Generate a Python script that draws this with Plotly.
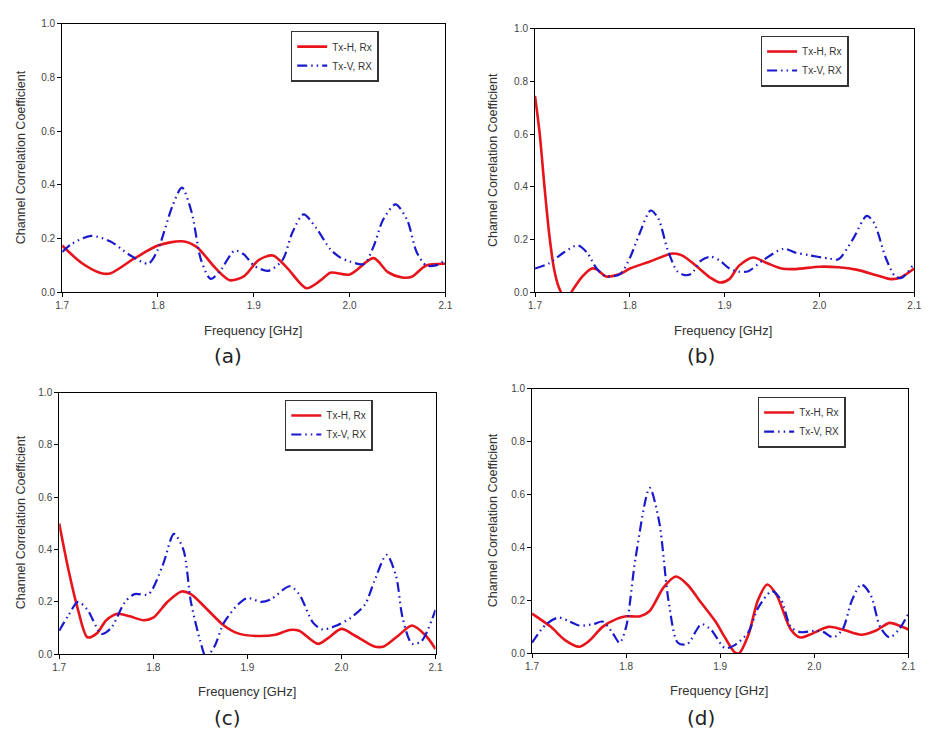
import plotly.graph_objects as go

# ---------------- data ----------------
a_h_x = [1.70, 1.72, 1.74, 1.75, 1.775, 1.80, 1.825, 1.84, 1.86, 1.875, 1.89, 1.905, 1.92, 1.935, 1.955, 1.97, 1.98, 2.00, 2.025, 2.04, 2.055, 2.065, 2.08, 2.10]
a_h_y = [0.174, 0.11, 0.072, 0.07, 0.125, 0.174, 0.19, 0.17, 0.09, 0.045, 0.06, 0.12, 0.137, 0.09, 0.015, 0.045, 0.073, 0.066, 0.127, 0.075, 0.055, 0.058, 0.10, 0.106]
a_v_x = [1.70, 1.71, 1.73, 1.75, 1.77, 1.79, 1.80, 1.815, 1.825, 1.835, 1.845, 1.855, 1.865, 1.88, 1.89, 1.90, 1.915, 1.93, 1.94, 1.952, 1.965, 1.98, 1.99, 2.00, 2.015, 2.025, 2.035, 2.048, 2.06, 2.07, 2.08, 2.09, 2.10]
a_v_y = [0.15, 0.18, 0.21, 0.19, 0.14, 0.107, 0.16, 0.32, 0.39, 0.30, 0.12, 0.05, 0.08, 0.155, 0.14, 0.10, 0.08, 0.12, 0.22, 0.29, 0.24, 0.16, 0.13, 0.115, 0.105, 0.17, 0.27, 0.327, 0.27, 0.15, 0.10, 0.10, 0.12]

b_h_x = [1.70, 1.705, 1.71, 1.715, 1.72, 1.725, 1.733, 1.74, 1.75, 1.76, 1.765, 1.775, 1.79, 1.80, 1.82, 1.845, 1.855, 1.87, 1.885, 1.895, 1.905, 1.915, 1.93, 1.945, 1.96, 1.975, 2.00, 2.02, 2.04, 2.06, 2.075, 2.085, 2.10]
b_h_y = [0.745, 0.60, 0.40, 0.22, 0.09, 0.02, -0.03, 0.01, 0.06, 0.09, 0.087, 0.06, 0.07, 0.09, 0.115, 0.147, 0.14, 0.10, 0.055, 0.037, 0.05, 0.10, 0.132, 0.11, 0.09, 0.088, 0.097, 0.095, 0.085, 0.065, 0.05, 0.055, 0.09]
b_v_x = [1.70, 1.715, 1.73, 1.745, 1.755, 1.765, 1.775, 1.79, 1.80, 1.81, 1.822, 1.83, 1.84, 1.85, 1.858, 1.865, 1.875, 1.885, 1.895, 1.905, 1.915, 1.925, 1.94, 1.962, 1.975, 1.99, 2.01, 2.02, 2.035, 2.05, 2.058, 2.07, 2.08, 2.087, 2.10]
b_v_y = [0.09, 0.11, 0.15, 0.178, 0.15, 0.09, 0.06, 0.07, 0.13, 0.22, 0.31, 0.28, 0.16, 0.08, 0.065, 0.07, 0.12, 0.135, 0.12, 0.09, 0.078, 0.08, 0.12, 0.165, 0.15, 0.14, 0.128, 0.125, 0.20, 0.29, 0.26, 0.13, 0.06, 0.055, 0.11]

c_h_x = [1.70, 1.71, 1.72, 1.73, 1.74, 1.75, 1.762, 1.775, 1.79, 1.80, 1.815, 1.83, 1.84, 1.855, 1.875, 1.89, 1.91, 1.93, 1.945, 1.955, 1.975, 1.985, 2.00, 2.015, 2.035, 2.045, 2.06, 2.075, 2.09, 2.10]
c_h_y = [0.50, 0.32, 0.17, 0.065, 0.08, 0.13, 0.155, 0.145, 0.13, 0.14, 0.20, 0.24, 0.23, 0.18, 0.11, 0.08, 0.07, 0.075, 0.093, 0.09, 0.04, 0.06, 0.097, 0.07, 0.03, 0.03, 0.07, 0.11, 0.07, 0.02]
c_v_x = [1.70, 1.71, 1.72, 1.73, 1.745, 1.755, 1.77, 1.78, 1.795, 1.81, 1.822, 1.832, 1.84, 1.85, 1.856, 1.865, 1.875, 1.89, 1.90, 1.915, 1.925, 1.945, 1.955, 1.97, 1.98, 1.995, 2.01, 2.025, 2.035, 2.048, 2.058, 2.065, 2.075, 2.085, 2.10]
c_v_y = [0.09, 0.15, 0.20, 0.17, 0.078, 0.10, 0.20, 0.23, 0.23, 0.34, 0.46, 0.40, 0.20, 0.05, -0.01, 0.03, 0.12, 0.19, 0.215, 0.20, 0.21, 0.26, 0.23, 0.12, 0.095, 0.11, 0.14, 0.19, 0.28, 0.38, 0.30, 0.14, 0.04, 0.05, 0.17]

d_h_x = [1.70, 1.72, 1.735, 1.75, 1.76, 1.775, 1.79, 1.80, 1.815, 1.825, 1.84, 1.853, 1.865, 1.88, 1.895, 1.905, 1.915, 1.92, 1.93, 1.94, 1.95, 1.96, 1.975, 1.985, 1.995, 2.015, 2.03, 2.05, 2.065, 2.08, 2.09, 2.10]
d_h_y = [0.15, 0.10, 0.05, 0.025, 0.045, 0.10, 0.13, 0.14, 0.14, 0.16, 0.25, 0.29, 0.26, 0.19, 0.12, 0.06, 0.005, 0.0, 0.07, 0.20, 0.26, 0.22, 0.09, 0.06, 0.07, 0.10, 0.09, 0.07, 0.085, 0.115, 0.105, 0.09]
d_v_x = [1.70, 1.715, 1.728, 1.74, 1.75, 1.765, 1.775, 1.785, 1.793, 1.80, 1.81, 1.825, 1.835, 1.845, 1.855, 1.865, 1.88, 1.89, 1.905, 1.915, 1.93, 1.94, 1.955, 1.965, 1.975, 1.985, 2.00, 2.01, 2.02, 2.03, 2.04, 2.05, 2.06, 2.07, 2.08, 2.09, 2.10]
d_v_y = [0.04, 0.11, 0.135, 0.12, 0.105, 0.11, 0.12, 0.08, 0.04, 0.10, 0.36, 0.625, 0.50, 0.20, 0.04, 0.035, 0.11, 0.09, 0.02, 0.03, 0.08, 0.17, 0.235, 0.20, 0.10, 0.08, 0.085, 0.08, 0.06, 0.09, 0.20, 0.26, 0.22, 0.10, 0.06, 0.09, 0.15]

series_names = ["Tx-H, Rx", "Tx-V, RX"]
panel_labels = ["(a)", "(b)", "(c)", "(d)"]
x_ticks = [1.7, 1.8, 1.9, 2.0, 2.1]
x_ticklabels = ["1.7", "1.8", "1.9", "2.0", "2.1"]
y_ticks = [0.0, 0.2, 0.4, 0.6, 0.8, 1.0]
y_ticklabels = ["0.0", "0.2", "0.4", "0.6", "0.8", "1.0"]
x_title = "Frequency [GHz]"
y_title = "Channel Correlation Coefficient"

panels = [
    (a_h_x, a_h_y, a_v_x, a_v_y),
    (b_h_x, b_h_y, b_v_x, b_v_y),
    (c_h_x, c_h_y, c_v_x, c_v_y),
    (d_h_x, d_h_y, d_v_x, d_v_y),
]

# ---------------- layout geometry (pixels) ----------------
W, H = 939, 739
# plot areas: left, right, top, bottom
boxes = [(56, 445, 18, 291), (536, 921, 23, 291), (53, 435, 393, 659), (533, 915, 389, 658)]
legend_pos = [(288, 25), (765, 30), (282, 400), (762, 397)]
ytitle_pos = [(15, 154), (494, 157), (15, 525), (493, 523)]
xtitle_pos = [(250, 330), (727, 330), (244, 697), (723, 696)]
label_pos = [(224, 356), (705, 356), (224, 724), (705, 724)]

RED = "#E8141B"
BLUE = "#1A1ACC"
FONT = "Liberation Sans, Arial, sans-serif"

fig = go.Figure()
layout = dict(
    width=W, height=H, margin=dict(l=0, r=0, t=0, b=0),
    paper_bgcolor="white", plot_bgcolor="white",
    font=dict(family=FONT, color="#222"),
    showlegend=True,
)
annotations = []

for i, (hx, hy, vx, vy) in enumerate(panels):
    n = "" if i == 0 else str(i + 1)
    xa, ya = "x" + n, "y" + n
    lg = "legend" + n
    fig.add_trace(go.Scatter(x=hx, y=hy, mode="lines", name=series_names[0],
                             line=dict(color=RED, width=2.6, shape="spline", smoothing=0.8),
                             xaxis=xa, yaxis=ya, legend=lg))
    fig.add_trace(go.Scatter(x=vx, y=vy, mode="lines", name=series_names[1],
                             line=dict(color=BLUE, width=2.2, shape="spline", smoothing=0.8,
                                       dash="10px,4px,1.5px,4px,1.5px,4px"),
                             xaxis=xa, yaxis=ya, legend=lg))
    l, r, t, b = boxes[i]
    layout["xaxis" + n] = dict(
        domain=[l / W, r / W], anchor=ya, range=[1.7, 2.1],
        tickmode="array", tickvals=x_ticks, ticktext=x_ticklabels,
        ticks="outside", ticklen=4, tickcolor="#000", showline=True, linecolor="#000",
        linewidth=1, mirror=True, showgrid=False, zeroline=False,
        tickfont=dict(size=10, color="#444"),
    )
    layout["yaxis" + n] = dict(
        domain=[1 - b / H, 1 - t / H], anchor=xa, range=[0, 1.0],
        tickmode="array", tickvals=y_ticks, ticktext=y_ticklabels,
        ticks="outside", ticklen=4, tickcolor="#000", showline=True, linecolor="#000",
        linewidth=1, mirror=True, showgrid=False, zeroline=False,
        tickfont=dict(size=10, color="#444"),
    )
    lx, ly = legend_pos[i]
    layout[lg] = dict(
        x=lx / W, y=1 - ly / H, xanchor="left", yanchor="top",
        bordercolor="#333", borderwidth=1.5, bgcolor="white",
        font=dict(size=10, color="#333", family=FONT),
        tracegroupgap=0, itemwidth=30,
    )
    tx, ty = ytitle_pos[i]
    annotations.append(dict(x=tx / W, y=1 - ty / H, xref="paper", yref="paper",
                            text=y_title, textangle=-90, showarrow=False,
                            font=dict(size=12.5, color="#333", family=FONT),
                            xanchor="center", yanchor="middle"))
    fx, fy = xtitle_pos[i]
    annotations.append(dict(x=fx / W, y=1 - fy / H, xref="paper", yref="paper",
                            text=x_title, showarrow=False,
                            font=dict(size=13, color="#333", family=FONT),
                            xanchor="center", yanchor="middle"))
    px, py = label_pos[i]
    annotations.append(dict(x=px / W, y=1 - py / H, xref="paper", yref="paper",
                            text=panel_labels[i], showarrow=False,
                            font=dict(size=20, color="#222", family="DejaVu Sans, sans-serif"),
                            xanchor="center", yanchor="middle"))

layout["annotations"] = annotations
fig.update_layout(**layout)
fig.write_html("out.html")
